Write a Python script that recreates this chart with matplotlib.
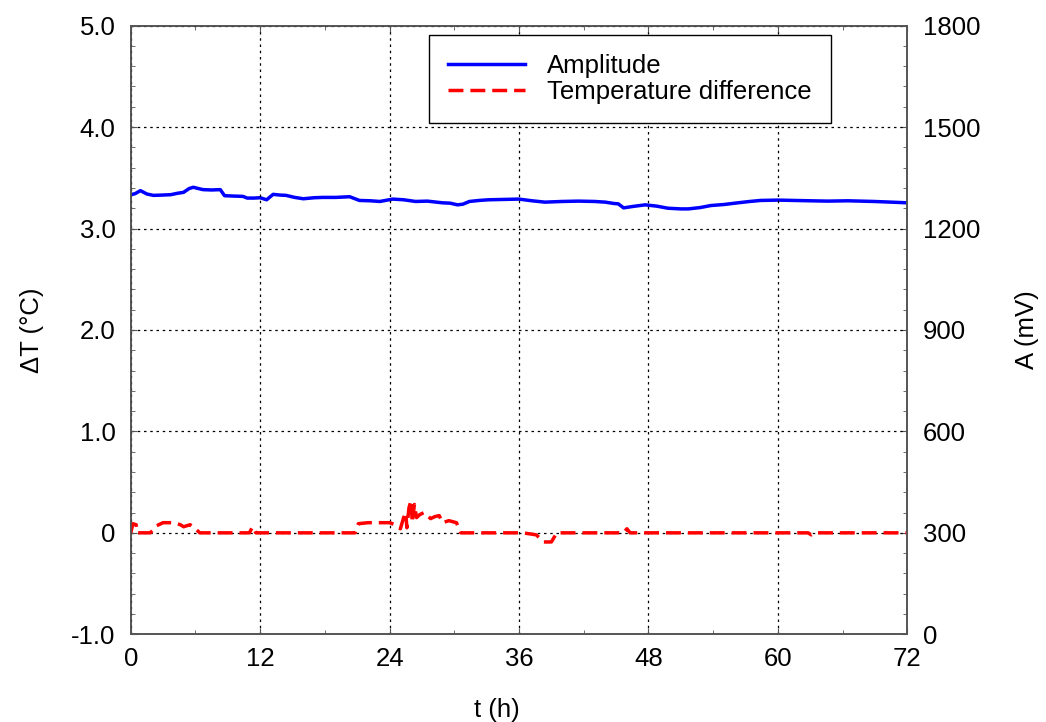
import numpy as np
import matplotlib.pyplot as plt
from matplotlib.ticker import MultipleLocator

plt.rcParams['font.family'] = ['Liberation Sans', 'DejaVu Sans']

# amplitude (right axis, mV)
t_amp = [0.0, 0.4, 0.9, 1.5, 2.1, 3.0, 3.7, 4.3, 4.9, 5.4, 5.8, 6.3, 6.7, 7.5, 8.3, 8.7,
         9.5, 10.4, 10.8, 11.4, 12.0, 12.6, 13.2, 13.8, 14.4, 15.2, 16.0, 17.0, 17.8, 19.0,
         20.3, 21.2, 22.2, 23.1, 24.3, 25.3, 26.4, 27.5, 28.9, 29.6, 30.3, 30.8, 31.4, 32.3,
         33.2, 34.6, 36.0, 37.2, 38.4, 40.0, 41.5, 43.0, 44.0, 44.8, 45.2, 45.7, 46.5, 47.7,
         48.8, 49.8, 51.0, 51.7, 52.8, 53.8, 55.0, 56.3, 57.4, 58.4, 60.0, 61.5, 63.0, 64.6,
         66.5, 68.9, 70.5, 72.0]
amp = [1300, 1303, 1312, 1302, 1298, 1299, 1300, 1304, 1307, 1318, 1322, 1318, 1315, 1314,
       1315, 1297, 1296, 1295, 1290, 1290, 1291, 1285, 1301, 1299, 1298, 1292, 1288, 1291,
       1292, 1292, 1294, 1283, 1282, 1280, 1287, 1285, 1280, 1281, 1276, 1275, 1270, 1272,
       1280, 1283, 1285, 1286, 1287, 1282, 1278, 1280, 1281, 1280, 1278, 1274, 1273, 1261,
       1265, 1270, 1266, 1260, 1258, 1258, 1262, 1268, 1271, 1276, 1280, 1283, 1284, 1283,
       1282, 1281, 1282, 1280, 1278, 1276]

# temperature difference (left axis, degC)
t_dt = [0.0, 0.2, 0.5, 0.6, 1.8, 2.0, 2.4, 3.0, 4.0, 4.6, 4.9, 5.5, 5.9, 6.4, 11.0, 11.3,
        11.6, 20.8, 21.1, 22.0, 24.0, 24.5, 25.0, 25.3, 25.5, 25.6, 25.8, 26.0, 26.1, 26.3,
        26.5, 26.8, 27.2, 27.8, 28.2, 28.6, 28.9, 29.5, 30.2, 30.6, 36.3, 37.0, 37.6, 38.3,
        39.0, 39.5, 45.7, 46.0, 46.3, 62.8, 63.1, 63.4, 72.0]
dt = [0.0, 0.09, 0.08, 0.0, 0.0, 0.02, 0.07, 0.1, 0.1, 0.08, 0.06, 0.08, 0.05, 0.0, 0.0, 0.06,
      0.0, 0.0, 0.09, 0.1, 0.1, 0.08, 0.04, 0.15, 0.2, 0.05, 0.25, 0.32, 0.1, 0.28,
      0.15, 0.18, 0.2, 0.14, 0.16, 0.17, 0.1, 0.12, 0.1, 0.0, 0.0, -0.01, -0.02, -0.09,
      -0.09, 0.0, 0.0, 0.04, 0.0, 0.0, -0.02, 0.0, 0.0]

x_ticks = [0, 12, 24, 36, 48, 60, 72]
left_ticks = [-1.0, 0.0, 1.0, 2.0, 3.0, 4.0, 5.0]
left_labels = ['-1.0', '0', '1.0', '2.0', '3.0', '4.0', '5.0']
right_ticks = [0, 300, 600, 900, 1200, 1500, 1800]

FS = 18.5
spine_col = '#555555'

fig = plt.figure(figsize=(10.46, 7.22), dpi=100)
ax = fig.add_axes([0.125, 0.1215, 0.7424, 0.843])
ax2 = ax.twinx()

l_dt, = ax.plot(t_dt, dt, color='red', lw=2.5, dashes=(4.3, 2.0))
l_amp, = ax2.plot(t_amp, amp, color='blue', lw=2.5)

ax.set_xlim(0, 72)
ax.set_ylim(-1.0, 5.0)
ax2.set_ylim(0, 1800)

ax.set_xticks(x_ticks)
ax.set_xticklabels([str(v) for v in x_ticks])
ax.set_yticks(left_ticks)
ax.set_yticklabels(left_labels)
ax2.set_yticks(right_ticks)
ax2.set_yticklabels([str(v) for v in right_ticks])
ax.xaxis.set_minor_locator(MultipleLocator(6))
ax.yaxis.set_minor_locator(MultipleLocator(0.2))
ax2.yaxis.set_minor_locator(MultipleLocator(60))

ax.grid(True, which='major', color='black', linestyle=(0, (2, 3)), lw=0.9)

for a in (ax, ax2):
    for s in a.spines.values():
        s.set_color(spine_col)
        s.set_linewidth(1.2)
ax.tick_params(which='both', direction='in', colors=spine_col, labelcolor='black',
               labelsize=FS, top=True)
ax.tick_params(which='major', length=4)
ax.tick_params(which='minor', length=3)
ax.tick_params(axis='y', pad=11)
ax.tick_params(axis='x', pad=9)
ax2.tick_params(which='both', direction='in', colors=spine_col, labelcolor='black',
                labelsize=FS, pad=11)
ax2.tick_params(which='major', length=4)
ax2.tick_params(which='minor', length=3)

# axis titles placed like the original
fig.text(497 / 1046, 1 - 710 / 722, 't (h)', fontsize=FS, ha='center', va='center')
fig.text(32 / 1046, 1 - 330 / 722, '\u0394T (\u00b0C)', fontsize=FS, ha='center',
         va='center', rotation=90)
fig.text(1027 / 1046, 1 - 330 / 722, 'A (mV)', fontsize=FS, ha='center',
         va='center', rotation=90)

leg = ax.legend([l_amp, l_dt], ['Amplitude', 'Temperature difference'],
                loc='upper left', bbox_to_anchor=(0.384, 0.985), fontsize=FS,
                frameon=True, fancybox=False, framealpha=1, edgecolor='black',
                handlelength=3.0, handletextpad=0.85, labelspacing=0.08,
                borderpad=0.75, borderaxespad=0)
leg.get_frame().set_linewidth(1.0)
ax.set_zorder(ax2.get_zorder() + 1)
ax.patch.set_visible(False)

fig.savefig('out.png', dpi=100)
